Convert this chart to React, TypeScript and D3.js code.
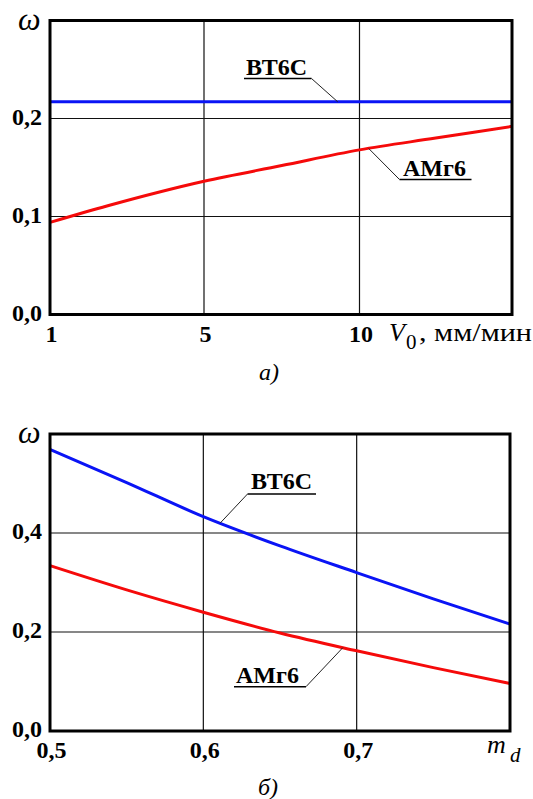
import React from "react";
import * as d3 from "d3";

// panel a) : omega vs feed speed V0 (x axis is split in equal thirds 1-5-10-15)
const v0Points = [1, 2.5, 5, 7.5, 10, 12.5, 15];
const bt6cByV0 = [0.217, 0.217, 0.217, 0.217, 0.217, 0.217, 0.217];
const amg6ByV0 = [0.094, 0.111, 0.136, 0.152, 0.168, 0.18, 0.192];
const v0Breaks = [1, 5, 10, 15];
const v0Ticks = [1, 5, 10];
const v0TickLabels = ["1", "5", "10"];
const omegaTicksA = [0, 0.1, 0.2];
const omegaLabelsA = ["0,0", "0,1", "0,2"];

// panel б) : omega vs m_d
const mdPoints = [0.5, 0.55, 0.6, 0.65, 0.7, 0.75, 0.8];
const bt6cByMd = [0.569, 0.502, 0.433, 0.374, 0.32, 0.267, 0.216];
const amg6ByMd = [0.334, 0.285, 0.24, 0.198, 0.162, 0.128, 0.096];
const mdTicks = [0.5, 0.6, 0.7];
const mdTickLabels = ["0,5", "0,6", "0,7"];
const omegaTicksB = [0, 0.2, 0.4];
const omegaLabelsB = ["0,0", "0,2", "0,4"];

const serif = { fontFamily: "'Liberation Serif', 'Tinos', serif" };
const BLUE = "#0a14f5";
const RED = "#f50a0a";

type Note = {
  text: string;
  tx: number; // text start
  ty: number; // baseline
  ux1: number;
  ux2: number;
  uy: number;
  fromLeft: boolean; // leader starts at left end of underline
  atX: number; // data x of leader tip
  xs: number[];
  ys: number[];
};

type PanelProps = {
  x: d3.ScaleLinear<number, number>;
  y: d3.ScaleLinear<number, number>;
  xTicks: number[];
  xLabels: string[];
  yTicks: number[];
  yLabels: string[];
  xs: number[];
  series: { values: number[]; color: string }[];
  notes: Note[];
};

const Panel = ({ x, y, xTicks, xLabels, yTicks, yLabels, xs, series, notes }: PanelProps) => {
  const [x0, x1] = [x.range()[0], x.range()[x.range().length - 1]];
  const [y0, y1] = y.range();
  const line = d3
    .line<number>()
    .x((_, i) => x(xs[i]))
    .y((d) => y(d))
    .curve(d3.curveMonotoneX);

  return (
    <g>
      {/* grid */}
      {xTicks.slice(1).map((t) => (
        <line key={"gx" + t} x1={x(t)} x2={x(t)} y1={y0} y2={y1} stroke="#111" strokeWidth={1.2} />
      ))}
      {yTicks.slice(1).map((t) => (
        <line key={"gy" + t} x1={x0} x2={x1} y1={y(t)} y2={y(t)} stroke="#111" strokeWidth={1.2} />
      ))}

      {/* curves */}
      {series.map((s, i) => (
        <path key={i} d={line(s.values) || ""} fill="none" stroke={s.color} strokeWidth={3} />
      ))}

      {/* frame */}
      <rect x={x0} y={y1} width={x1 - x0} height={y0 - y1} fill="none" stroke="#000" strokeWidth={3} />

      {/* tick labels */}
      {yTicks.map((t, i) => (
        <text key={"yl" + t} x={42} y={y(t) + 6} textAnchor="end" style={serif} fontWeight="bold" fontSize={24}>
          {yLabels[i]}
        </text>
      ))}
      {xTicks.map((t, i) => (
        <text key={"xl" + t} x={x(t) + 1.5} y={y0 + 27} textAnchor="middle" style={serif} fontWeight="bold" fontSize={24}>
          {xLabels[i]}
        </text>
      ))}
      <text x={18} y={y1 + 9} style={serif} fontStyle="italic" fontSize={32}>
        ω
      </text>

      {/* callouts */}
      {notes.map((n) => {
        const tipY = y(d3.scaleLinear().domain(n.xs).range(n.ys)(n.atX));
        const sx = n.fromLeft ? n.ux1 : n.ux2;
        return (
          <g key={n.text + n.ty}>
            <text x={n.tx} y={n.ty} style={serif} fontWeight="bold" fontSize={24}>
              {n.text}
            </text>
            <line x1={n.ux1} x2={n.ux2} y1={n.uy} y2={n.uy} stroke="#000" strokeWidth={1.5} />
            <line x1={sx} y1={n.uy} x2={x(n.atX)} y2={tipY} stroke="#222" strokeWidth={1} />
          </g>
        );
      })}
    </g>
  );
};

export default function App() {
  const xA = d3.scaleLinear().domain(v0Breaks).range([50, 204, 359.5, 512]);
  const yA = d3.scaleLinear().domain([0, 0.3]).range([314.5, 20.5]);
  const xB = d3.scaleLinear().domain([0.5, 0.8]).range([50, 510]);
  const yB = d3.scaleLinear().domain([0, 0.6]).range([731, 434]);

  const notesA: Note[] = [
    { text: "ВТ6С", tx: 246, ty: 75, ux1: 244, ux2: 311.5, uy: 78.5, fromLeft: false, atX: 9.3, xs: v0Points, ys: bt6cByV0 },
    { text: "АМг6", tx: 403, ty: 176, ux1: 399.5, ux2: 471.5, uy: 179.5, fromLeft: true, atX: 10.3, xs: v0Points, ys: amg6ByV0 },
  ];
  const notesB: Note[] = [
    { text: "ВТ6С", tx: 251, ty: 489, ux1: 247.5, ux2: 316, uy: 494, fromLeft: true, atX: 0.611, xs: mdPoints, ys: bt6cByMd },
    { text: "АМг6", tx: 236, ty: 682.5, ux1: 234, ux2: 306, uy: 686.7, fromLeft: false, atX: 0.691, xs: mdPoints, ys: amg6ByMd },
  ];

  return (
    <svg width={533} height={799} style={{ position: "absolute", left: 0, top: 0, background: "#fff" }}>
      <rect width={533} height={799} fill="#fff" />
      <Panel
        x={xA}
        y={yA}
        xTicks={v0Ticks}
        xLabels={v0TickLabels}
        yTicks={omegaTicksA}
        yLabels={omegaLabelsA}
        xs={v0Points}
        series={[
          { values: bt6cByV0, color: BLUE },
          { values: amg6ByV0, color: RED },
        ]}
        notes={notesA}
      />
      {/* x axis title a) */}
      <text x={389} y={341} style={serif} fontStyle="italic" fontSize={26}>
        V
      </text>
      <text x={406} y={349} style={serif} fontSize={21}>
        0
      </text>
      <text x={419} y={341} style={serif} fontSize={25} textLength={113} lengthAdjust="spacingAndGlyphs">
        , мм/мин
      </text>
      <text x={269} y={380} textAnchor="middle" style={serif} fontStyle="italic" fontSize={24}>
        а)
      </text>

      <Panel
        x={xB}
        y={yB}
        xTicks={mdTicks}
        xLabels={mdTickLabels}
        yTicks={omegaTicksB}
        yLabels={omegaLabelsB}
        xs={mdPoints}
        series={[
          { values: bt6cByMd, color: BLUE },
          { values: amg6ByMd, color: RED },
        ]}
        notes={notesB}
      />
      <text x={487} y={753} style={serif} fontStyle="italic" fontSize={26}>
        m
      </text>
      <text x={510} y={762} style={serif} fontStyle="italic" fontSize={21}>
        d
      </text>
      <text x={268} y={795} textAnchor="middle" style={serif} fontStyle="italic" fontSize={24}>
        б)
      </text>
    </svg>
  );
}
